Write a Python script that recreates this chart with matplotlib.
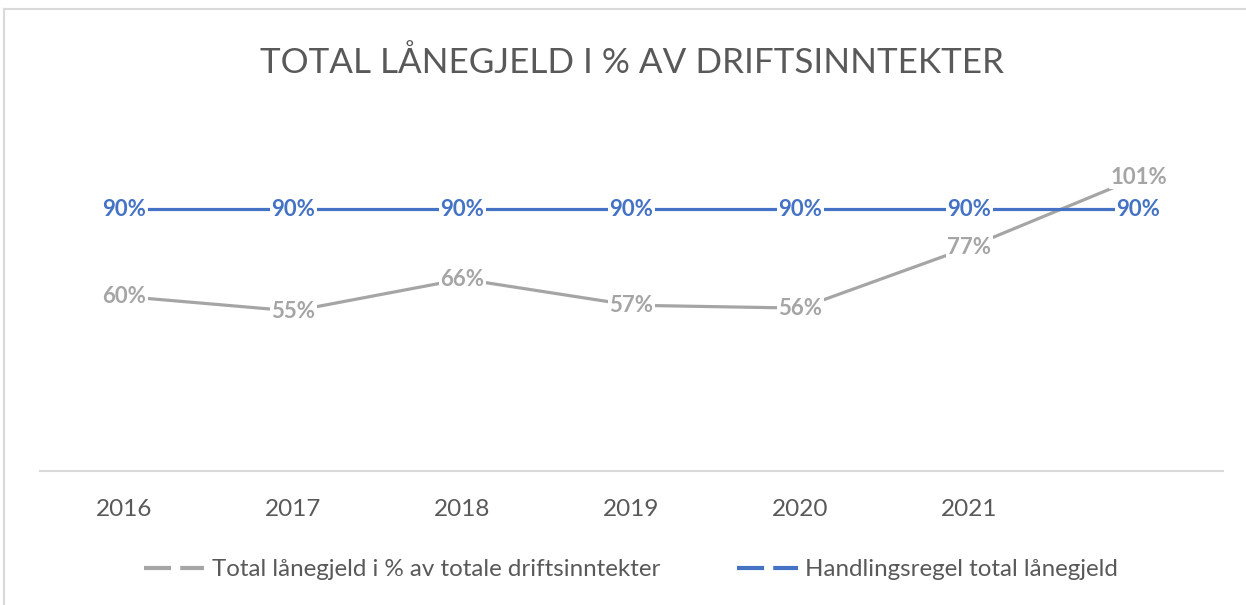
import matplotlib.pyplot as plt
from matplotlib.lines import Line2D

# data
years = ['2016', '2017', '2018', '2019', '2020', '2021', '']
laanegjeld = [60, 55, 66, 57, 56, 77, 101]
handlingsregel = [90, 90, 90, 90, 90, 90, 90]
serie_navn = ['Total lånegjeld i % av totale driftsinntekter', 'Handlingsregel total lånegjeld']
tittel = 'TOTAL LÅNEGJELD I % AV DRIFTSINNTEKTER'

grey = '#A5A5A5'
blue = '#4472C4'
txt = '#595959'

plt.rcParams['font.family'] = ['Lato', 'DejaVu Sans']

fig = plt.figure(figsize=(12.46, 6.05), dpi=100)
ax = fig.add_axes([40/1246, 1 - 471/605, 1183/1246, 349/605])

x = list(range(len(years)))
ax.plot(x, laanegjeld, color=grey, lw=2.3, solid_capstyle='round', zorder=2)
ax.plot(x, handlingsregel, color=blue, lw=2.3, solid_capstyle='round', zorder=3)

bb = dict(boxstyle='square,pad=0.05', fc='white', ec='none')
for i, v in enumerate(laanegjeld):
    ax.text(i, v, f'{v}%', color=grey, fontsize=16, fontweight='bold',
            ha='center', va='center', bbox=bb, zorder=4)
for i, v in enumerate(handlingsregel):
    ax.text(i, v, f'{v}%', color=blue, fontsize=16, fontweight='bold',
            ha='center', va='center', bbox=bb, zorder=5)

ax.set_xlim(-0.5, len(years) - 0.5)
ax.set_ylim(0, 120)
ax.set_xticks(x)
ax.set_xticklabels(years, fontsize=17.5, color=txt)
ax.tick_params(axis='x', length=0, pad=20)
ax.set_yticks([])
for s in ['top', 'right', 'left']:
    ax.spines[s].set_visible(False)
ax.spines['bottom'].set_color('#D9D9D9')
ax.spines['bottom'].set_linewidth(1.5)

fig.text(632/1246, 1 - 63/605, tittel, ha='center', va='center',
         fontsize=25.2, color=txt)

handles = [Line2D([], [], color=grey, lw=3, ls=(0, (6.5, 2.2))),
           Line2D([], [], color=blue, lw=3, ls=(0, (6.5, 2.2)))]
fig.legend(handles, serie_navn, loc='center', bbox_to_anchor=(631/1246, 1 - 570/605),
           ncol=2, frameon=False, fontsize=17.4, labelcolor=txt,
           handlelength=2.5, handletextpad=0.3, columnspacing=3.2)

# chart border
fig.add_artist(Line2D([4/1246, 1], [1 - 9/605, 1 - 9/605], color='#D9D9D9', lw=1.5))
fig.add_artist(Line2D([4/1246, 4/1246], [0, 1 - 9/605], color='#D9D9D9', lw=1.5))

fig.savefig('out.png', dpi=100, facecolor='white')
